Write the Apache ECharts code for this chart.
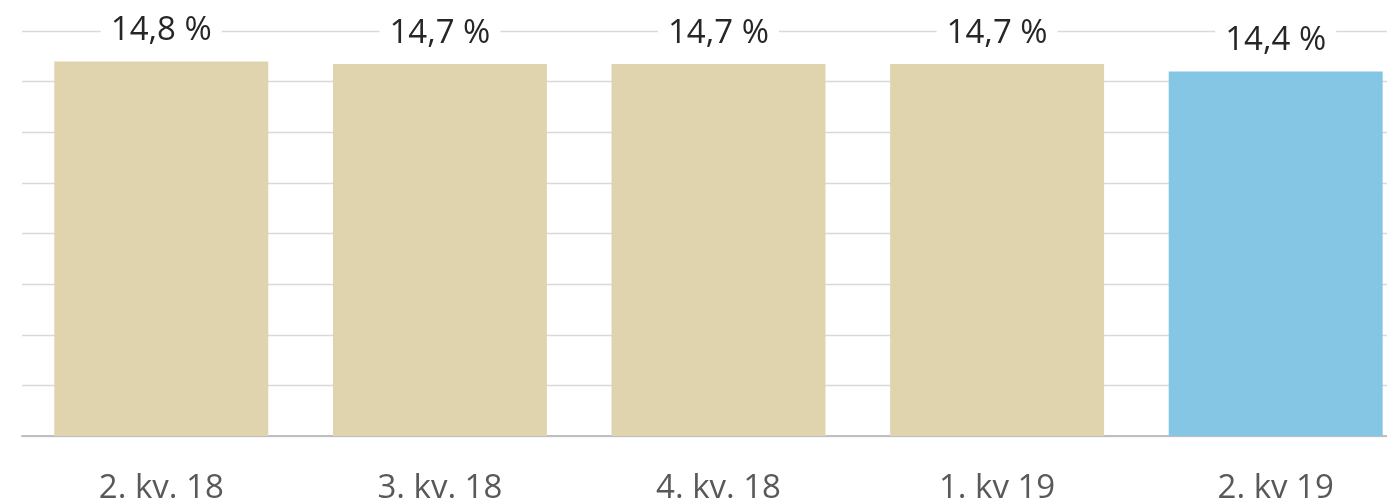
<!DOCTYPE html>
<html>
<head>
<meta charset="utf-8">
<script src="https://cdn.jsdelivr.net/npm/echarts@6/dist/echarts.min.js"></script>
<style>
  html, body { margin: 0; padding: 0; background: #ffffff; }
  #chart { width: 1387px; height: 499px; }
</style>
</head>
<body>
<div id="chart"></div>
<script>
// Quarter categories and share values (%)
const categories = ['2. kv. 18', '3. kv. 18', '4. kv. 18', '1. kv 19', '2. kv 19'];
const values = [14.8, 14.7, 14.7, 14.7, 14.4];
const barColors = ['#dfd4ae', '#dfd4ae', '#dfd4ae', '#dfd4ae', '#85c6e4'];

const FONT = '"Open Sans", "Noto Sans", sans-serif';

const chart = echarts.init(document.getElementById('chart'), null, { renderer: 'canvas' });

chart.setOption({
  animation: false,
  backgroundColor: '#ffffff',
  // plot area runs slightly past the right edge of the canvas
  grid: { left: 22, width: 1393, top: 31, bottom: 63, containLabel: false, outerBoundsMode: 'none' },
  xAxis: {
    type: 'category',
    data: categories,
    axisTick: { show: false },
    axisLine: { show: true, lineStyle: { color: '#bfbfbf', width: 2 } },
    axisLabel: {
      margin: 36,
      fontFamily: FONT,
      fontSize: 33,
      color: '#595959'
    }
  },
  yAxis: {
    type: 'value',
    min: 0,
    max: 16,
    interval: 2,
    axisLabel: { show: false },
    axisLine: { show: false },
    axisTick: { show: false },
    splitLine: { show: true, lineStyle: { color: '#d9d9d9', width: 1.3 } }
  },
  series: [{
    type: 'bar',
    data: values.map((v, i) => ({ value: v, itemStyle: { color: barColors[i] } })),
    barCategoryGap: '23.2%',
    label: {
      show: true,
      position: 'top',
      distance: 12,
      fontFamily: FONT,
      fontSize: 33,
      color: '#262626',
      backgroundColor: '#ffffff',
      padding: [2, 10, 2, 10],
      formatter: p => p.value.toFixed(1).replace('.', ',') + ' %'
    }
  }]
});
</script>
</body>
</html>
